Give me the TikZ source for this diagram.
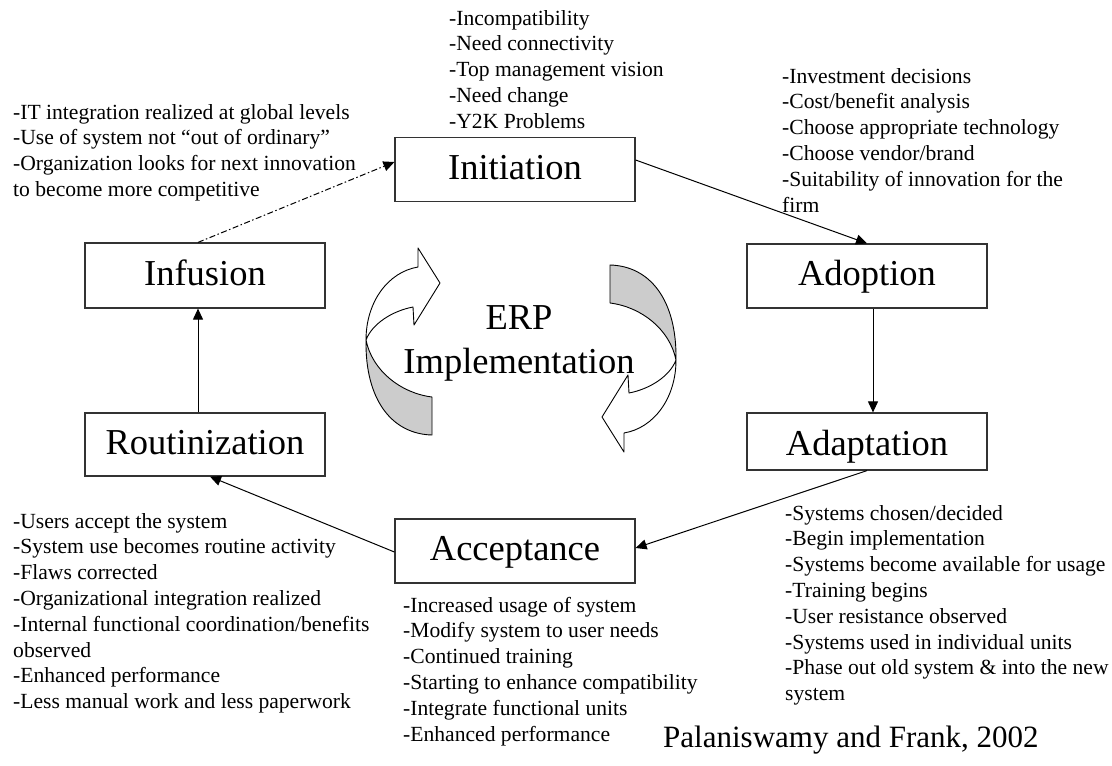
\documentclass[tikz,border=0pt]{standalone}
\usepackage{fontspec}
\setmainfont{Liberation Serif}
\usetikzlibrary{arrows.meta,calc}
\newcommand{\noteline}[1]{\hbox{#1}}
\newcommand{\noteblock}[1]{\vtop{\baselineskip=25.8pt\relax #1}}
\begin{document}
\begin{tikzpicture}[x=1pt,y=-1pt,
  stage/.style={draw=black!80, line width=1.2pt, minimum width=240pt, minimum height=64pt,
    inner sep=0pt, font=\fontsize{36.5}{40}\selectfont, text height=27pt, text depth=7.3pt},
  note/.style={anchor=base west, inner sep=0pt, font=\fontsize{21.6}{25.8}\selectfont},
  conn/.style={-{Triangle[length=11pt,width=10pt]}, line width=1pt},
  dashdot/.style={dash pattern=on 6pt off 2.5pt on 1.5pt off 2.5pt},
  band/.style={draw, line width=0.9pt, line join=round},
  big/.style={anchor=base, inner sep=0pt, font=\fontsize{36.5}{40}\selectfont}]
\fill[white] (0,0) rectangle (1112,766);
\useasboundingbox (0,0) rectangle (1112,766);

% stage boxes
\node[stage] (init) at (515,169.5) {Initiation};
\node[stage] (adop) at (867,276) {Adoption};
\node[stage, minimum height=57pt, text height=30.5pt, text depth=3.5pt] (adap) at (867,441.5) {Adaptation};
\node[stage] (acc) at (515,551) {Acceptance};
\node[stage, minimum height=63pt] (rout) at (205,444.5) {Routinization};
\node[stage, minimum height=65pt] (inf) at (205,275.5) {Infusion};

% connectors
\draw[conn] ($(init.east)+(0,-9.5)$) -- (adop.north);
\draw[conn] ($(adop.south)+(6,0)$) -- ($(adap.north)+(6,0)$);
\draw[conn] (adap.south) -- ($(acc.east)+(0,-3)$);
\draw[conn] ($(acc.west)+(0,1)$) -- ($(rout.south)+(5,0)$);
\draw[conn] ($(rout.north)+(-7,0)$) -- ($(inf.south)+(-7,0)$);
\draw[conn, dashdot] ($(inf.north)+(-7,0)$) -- ($(init.west)+(0,-7.5)$);

% central circular arrows
\path[band, fill=white] (418,267) -- (418,248) -- (440,283) -- (414,325) -- (413,307)
  .. controls (392,311) and (372,324) .. (366,340)
  .. controls (366,302) and (388,272) .. (418,267) -- cycle;
\path[band, fill=gray!40] (366,340) .. controls (372,370) and (400,393) .. (432,397)
  -- (432,435) .. controls (392,434) and (365,400) .. (366,340) -- cycle;
\begin{scope}[rotate around={180:(521,350)}]
\path[band, fill=white] (418,267) -- (418,248) -- (440,283) -- (414,325) -- (413,307)
  .. controls (392,311) and (372,324) .. (366,340)
  .. controls (366,302) and (388,272) .. (418,267) -- cycle;
\path[band, fill=gray!40] (366,340) .. controls (372,370) and (400,393) .. (432,397)
  -- (432,435) .. controls (392,434) and (365,400) .. (366,340) -- cycle;
\end{scope}

\node[big] (erp) at (519,329) {ERP};
\node[big] (impl) at (519,373) {Implementation};

% notes
\node[note] (n-init) at (449,25) {\noteblock{%
  \noteline{-Incompatibility}\noteline{-Need connectivity}\noteline{-Top management vision}%
  \noteline{-Need change}\noteline{-Y2K Problems}}};
\node[note] (n-adop) at (782,83) {\noteblock{%
  \noteline{-Investment decisions}\noteline{-Cost/benefit analysis}%
  \noteline{-Choose appropriate technology}\noteline{-Choose vendor/brand}%
  \noteline{-Suitability of innovation for the}\noteline{firm}}};
\node[note] (n-inf) at (13,119) {\noteblock{%
  \noteline{-IT integration realized at global levels}%
  \noteline{-Use of system not “out of ordinary”}%
  \noteline{-Organization looks for next innovation}%
  \noteline{to become more competitive}}};
\node[note] (n-adap) at (785,520) {\noteblock{%
  \noteline{-Systems chosen/decided}\noteline{-Begin implementation}%
  \noteline{-Systems become available for usage}\noteline{-Training begins}%
  \noteline{-User resistance observed}\noteline{-Systems used in individual units}%
  \noteline{-Phase out old system \& into the new}\noteline{system}}};
\node[note] (n-rout) at (13,528) {\noteblock{%
  \noteline{-Users accept the system}\noteline{-System use becomes routine activity}%
  \noteline{-Flaws corrected}\noteline{-Organizational integration realized}%
  \noteline{-Internal functional coordination/benefits}\noteline{observed}%
  \noteline{-Enhanced performance}\noteline{-Less manual work and less paperwork}}};
\node[note] (n-acc) at (403,612) {\noteblock{%
  \noteline{-Increased usage of system}\noteline{-Modify system to user needs}%
  \noteline{-Continued training}\noteline{-Starting to enhance compatibility}%
  \noteline{-Integrate functional units}\noteline{-Enhanced performance}}};

\node[anchor=base west, inner sep=0pt, font=\fontsize{31}{36}\selectfont] (cite) at (663,747)
  {Palaniswamy and Frank, 2002};
\end{tikzpicture}
\end{document}
